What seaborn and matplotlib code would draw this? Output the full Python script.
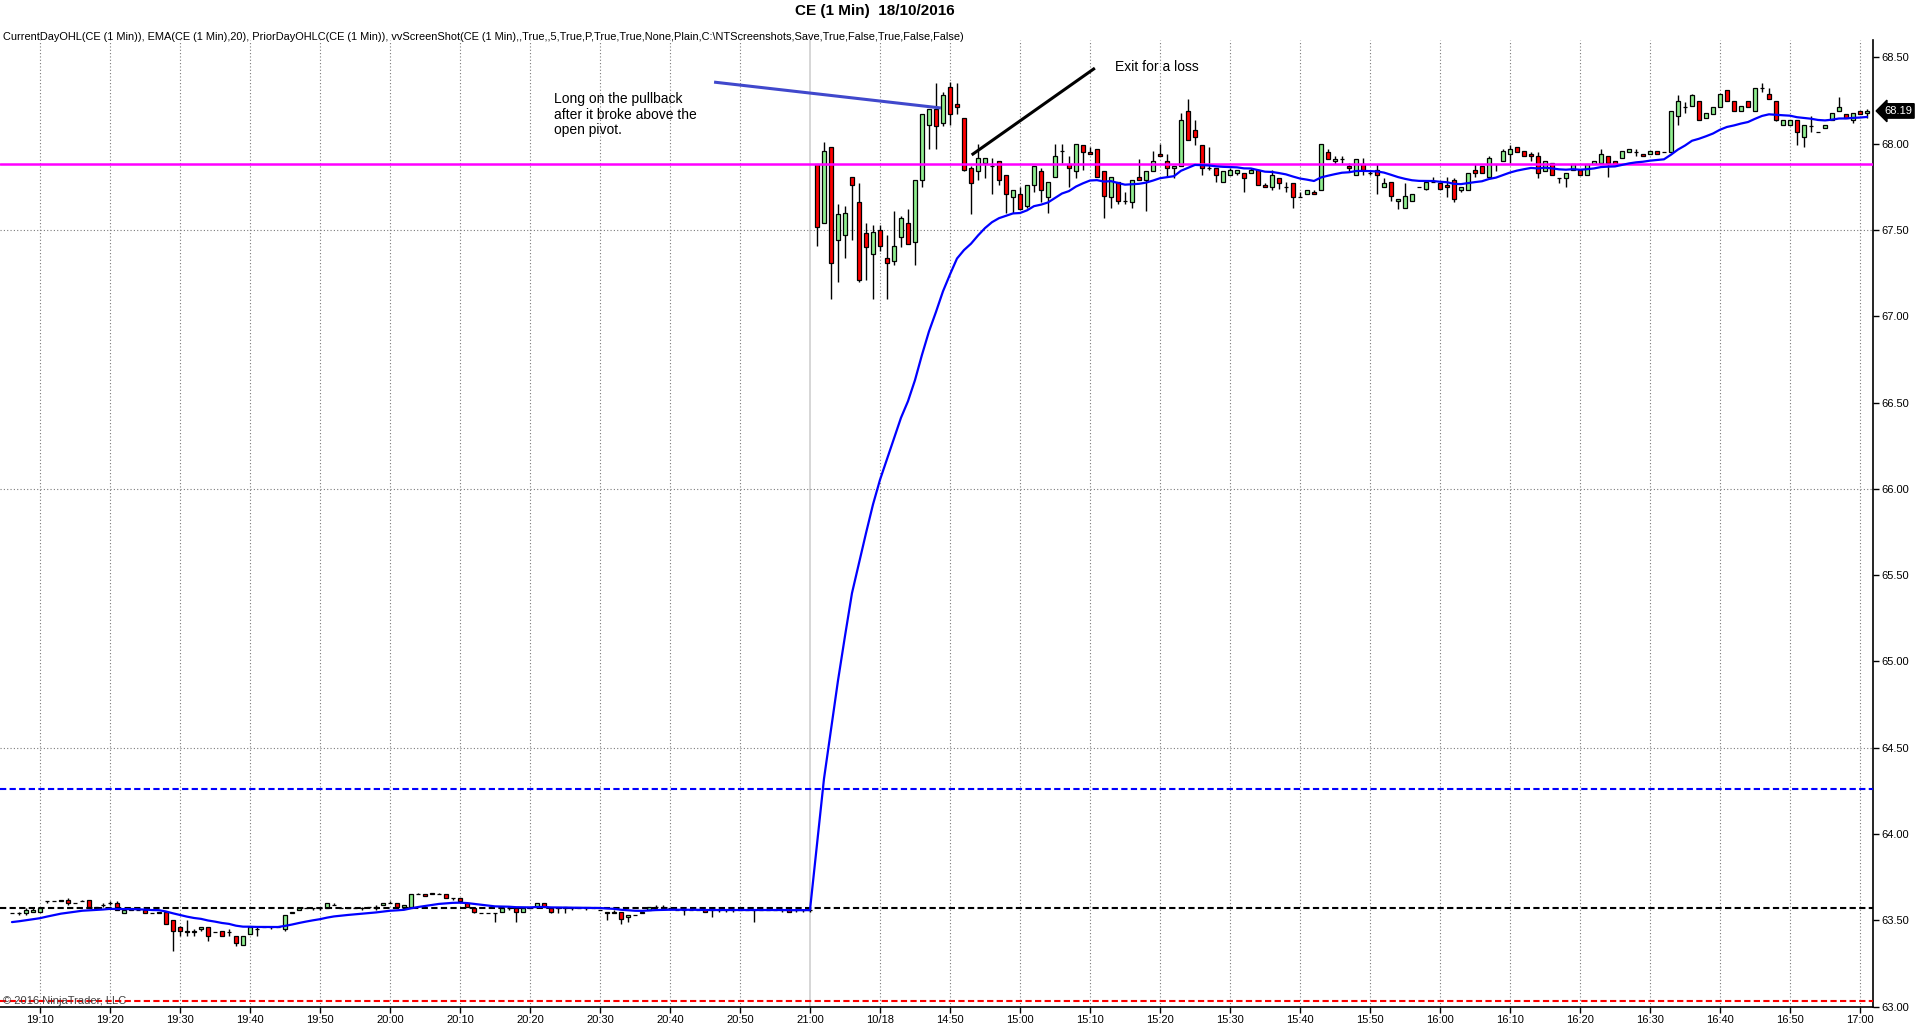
import numpy as np
import pandas as pd
import matplotlib
matplotlib.use("Agg")
import matplotlib.pyplot as plt
import matplotlib.transforms as mtransforms
import seaborn as sns

# ---------------- data ----------------
tick_labels = ["19:10", "19:20", "19:30", "19:40", "19:50", "20:00", "20:10", "20:20",
               "20:30", "20:40", "20:50", "21:00", "10/18", "14:50", "15:00", "15:10",
               "15:20", "15:30", "15:40", "15:50", "16:00", "16:10", "16:20", "16:30",
               "16:40", "16:50", "17:00"]
first_bar = -4          # first candle sits 4 bars before the 19:10 bar
session_break = 110     # bar index of the 21:00 session break

opens = [
    # previous session (19:06 .. 21:00)
    63.54, 63.54, 63.54, 63.55, 63.55, 63.61, 63.61, 63.61, 63.62, 63.60,
    63.61, 63.62, 63.57, 63.59, 63.60, 63.60, 63.54, 63.57, 63.56, 63.56,
    63.54, 63.54, 63.55, 63.50, 63.46, 63.44, 63.43, 63.45, 63.46, 63.43,
    63.44, 63.43, 63.41, 63.36, 63.42, 63.45, 63.46, 63.46, 63.46, 63.45,
    63.54, 63.56, 63.57, 63.57, 63.57, 63.57, 63.59, 63.57, 63.57, 63.57,
    63.57, 63.58, 63.57, 63.59, 63.60, 63.60, 63.58, 63.58, 63.65, 63.65,
    63.66, 63.65, 63.65, 63.63, 63.63, 63.60, 63.57, 63.54, 63.54, 63.54,
    63.55, 63.57, 63.57, 63.55, 63.57, 63.58, 63.60, 63.57, 63.57, 63.58,
    63.57, 63.57, 63.57, 63.57, 63.56, 63.55, 63.54, 63.55, 63.52, 63.53,
    63.54, 63.56, 63.58, 63.58, 63.57, 63.56, 63.56, 63.56, 63.56, 63.56,
    63.56, 63.56, 63.56, 63.56, 63.56, 63.56, 63.56, 63.56, 63.56, 63.56,
    63.56, 63.56, 63.56, 63.56, 63.56,
    # 10/18 session (14:31 .. 17:01)
    67.88, 67.54, 67.98, 67.44, 67.47, 67.81, 67.66, 67.48, 67.36, 67.50,
    67.34, 67.32, 67.46, 67.54, 67.43, 67.79, 68.11, 68.20, 68.12, 68.33,
    68.23, 68.15, 67.86, 67.84, 67.89, 67.87, 67.90, 67.82, 67.69, 67.71,
    67.64, 67.76, 67.84, 67.69, 67.81, 67.96, 67.88, 67.84, 67.99, 67.95,
    67.97, 67.84, 67.69, 67.78, 67.67, 67.66, 67.81, 67.79, 67.84, 67.94,
    67.90, 67.86, 67.87, 68.19, 68.08, 67.99, 67.86, 67.86, 67.78, 67.82,
    67.83, 67.83, 67.83, 67.85, 67.76, 67.75, 67.80, 67.75, 67.77, 67.69,
    67.71, 67.72, 67.73, 67.95, 67.90, 67.91, 67.87, 67.82, 67.88, 67.83,
    67.85, 67.75, 67.78, 67.67, 67.63, 67.67, 67.75, 67.74, 67.78, 67.77,
    67.76, 67.79, 67.73, 67.73, 67.85, 67.87, 67.81, 67.88, 67.90, 67.94,
    67.98, 67.96, 67.94, 67.93, 67.84, 67.89, 67.80, 67.80, 67.85, 67.85,
    67.82, 67.88, 67.89, 67.93, 67.90, 67.92, 67.95, 67.95, 67.94, 67.94,
    67.96, 67.95, 67.95, 68.16, 68.21, 68.22, 68.25, 68.15, 68.17, 68.21,
    68.31, 68.25, 68.19, 68.25, 68.19, 68.32, 68.29, 68.25, 68.11, 68.11,
    68.14, 68.04, 68.10, 68.07, 68.09, 68.14, 68.19, 68.17, 68.14, 68.19, 68.18,
]

highs = [
    63.54, 63.55, 63.57, 63.57, 63.58, 63.61, 63.61, 63.62, 63.63, 63.60,
    63.62, 63.62, 63.58, 63.60, 63.61, 63.61, 63.56, 63.57, 63.56, 63.56,
    63.54, 63.55, 63.55, 63.50, 63.47, 63.50, 63.45, 63.46, 63.46, 63.43,
    63.44, 63.45, 63.41, 63.41, 63.46, 63.46, 63.46, 63.46, 63.46, 63.53,
    63.55, 63.57, 63.57, 63.57, 63.58, 63.60, 63.60, 63.57, 63.57, 63.57,
    63.58, 63.58, 63.59, 63.60, 63.61, 63.60, 63.59, 63.65, 63.66, 63.65,
    63.66, 63.66, 63.65, 63.63, 63.63, 63.60, 63.57, 63.54, 63.54, 63.54,
    63.57, 63.58, 63.57, 63.57, 63.57, 63.60, 63.60, 63.57, 63.57, 63.58,
    63.57, 63.57, 63.57, 63.57, 63.56, 63.55, 63.56, 63.55, 63.53, 63.53,
    63.55, 63.58, 63.59, 63.59, 63.57, 63.56, 63.56, 63.56, 63.56, 63.56,
    63.56, 63.56, 63.56, 63.56, 63.56, 63.56, 63.56, 63.56, 63.56, 63.56,
    63.56, 63.57, 63.56, 63.56, 63.57,
    67.88, 68.01, 67.98, 67.65, 67.64, 67.81, 67.77, 67.54, 67.53, 67.53,
    67.47, 67.61, 67.58, 67.62, 67.79, 68.17, 68.20, 68.35, 68.30, 68.36,
    68.35, 68.15, 67.87, 68.00, 67.92, 67.92, 67.90, 67.82, 67.73, 67.75,
    67.76, 67.87, 67.86, 67.78, 68.00, 68.00, 67.93, 68.00, 67.99, 67.98,
    67.97, 67.84, 67.81, 67.78, 67.72, 67.79, 67.91, 67.84, 67.96, 68.00,
    67.94, 67.87, 68.18, 68.26, 68.14, 67.99, 67.98, 67.86, 67.84, 67.86,
    67.85, 67.83, 67.86, 67.85, 67.77, 67.85, 67.80, 67.78, 67.77, 67.72,
    67.73, 67.73, 68.00, 67.97, 67.93, 67.93, 67.89, 67.91, 67.92, 67.85,
    67.88, 67.80, 67.78, 67.68, 67.77, 67.71, 67.75, 67.78, 67.81, 67.77,
    67.81, 67.80, 67.75, 67.83, 67.88, 67.87, 67.93, 67.88, 67.97, 67.99,
    67.98, 67.96, 67.95, 67.95, 67.90, 67.89, 67.80, 67.83, 67.88, 67.85,
    67.88, 67.90, 67.97, 67.93, 67.90, 67.96, 67.97, 67.97, 67.94, 67.96,
    67.96, 67.95, 68.19, 68.28, 68.24, 68.29, 68.25, 68.18, 68.21, 68.29,
    68.31, 68.25, 68.22, 68.25, 68.32, 68.35, 68.32, 68.25, 68.14, 68.14,
    68.14, 68.11, 68.16, 68.07, 68.11, 68.18, 68.27, 68.17, 68.18, 68.19, 68.20,
]

lows = [
    63.54, 63.53, 63.53, 63.55, 63.55, 63.60, 63.61, 63.61, 63.59, 63.60,
    63.61, 63.58, 63.57, 63.58, 63.59, 63.56, 63.54, 63.56, 63.56, 63.54,
    63.54, 63.54, 63.48, 63.32, 63.41, 63.41, 63.41, 63.44, 63.38, 63.43,
    63.41, 63.41, 63.35, 63.36, 63.42, 63.41, 63.46, 63.45, 63.46, 63.44,
    63.54, 63.56, 63.57, 63.56, 63.56, 63.57, 63.59, 63.57, 63.57, 63.57,
    63.56, 63.58, 63.56, 63.59, 63.60, 63.58, 63.58, 63.58, 63.65, 63.64,
    63.65, 63.65, 63.63, 63.62, 63.61, 63.58, 63.54, 63.54, 63.54, 63.49,
    63.55, 63.56, 63.49, 63.55, 63.57, 63.58, 63.58, 63.54, 63.54, 63.54,
    63.56, 63.57, 63.56, 63.57, 63.56, 63.50, 63.54, 63.48, 63.49, 63.53,
    63.54, 63.56, 63.57, 63.57, 63.56, 63.56, 63.53, 63.56, 63.56, 63.55,
    63.52, 63.55, 63.55, 63.55, 63.56, 63.56, 63.49, 63.56, 63.56, 63.56,
    63.55, 63.55, 63.55, 63.55, 63.55,
    67.41, 67.54, 67.10, 67.20, 67.34, 67.44, 67.20, 67.21, 67.10, 67.38,
    67.10, 67.30, 67.40, 67.42, 67.30, 67.75, 67.97, 67.97, 68.10, 68.11,
    68.17, 67.84, 67.59, 67.79, 67.80, 67.71, 67.76, 67.60, 67.60, 67.62,
    67.63, 67.72, 67.66, 67.60, 67.81, 67.89, 67.75, 67.80, 67.85, 67.94,
    67.81, 67.57, 67.63, 67.65, 67.65, 67.63, 67.79, 67.61, 67.84, 67.93,
    67.81, 67.80, 67.87, 68.02, 67.99, 67.82, 67.85, 67.78, 67.78, 67.82,
    67.82, 67.72, 67.83, 67.76, 67.75, 67.73, 67.74, 67.72, 67.63, 67.69,
    67.71, 67.71, 67.73, 67.91, 67.88, 67.89, 67.84, 67.82, 67.82, 67.82,
    67.71, 67.75, 67.67, 67.62, 67.63, 67.67, 67.75, 67.73, 67.78, 67.74,
    67.69, 67.66, 67.72, 67.73, 67.81, 67.83, 67.81, 67.84, 67.90, 67.89,
    67.95, 67.93, 67.90, 67.80, 67.84, 67.82, 67.77, 67.75, 67.85, 67.82,
    67.82, 67.88, 67.89, 67.81, 67.88, 67.92, 67.95, 67.93, 67.93, 67.94,
    67.94, 67.95, 67.95, 68.11, 68.18, 68.22, 68.14, 68.15, 68.17, 68.21,
    68.25, 68.19, 68.19, 68.21, 68.19, 68.30, 68.26, 68.13, 68.11, 68.11,
    67.99, 67.98, 68.07, 68.07, 68.09, 68.14, 68.19, 68.15, 68.12, 68.17, 68.15,
]

closes = [
    63.54, 63.54, 63.56, 63.56, 63.57, 63.61, 63.61, 63.62, 63.60, 63.60,
    63.61, 63.58, 63.58, 63.59, 63.60, 63.56, 63.56, 63.56, 63.56, 63.54,
    63.54, 63.55, 63.48, 63.44, 63.44, 63.43, 63.44, 63.46, 63.41, 63.43,
    63.41, 63.43, 63.37, 63.41, 63.46, 63.45, 63.46, 63.46, 63.46, 63.53,
    63.55, 63.57, 63.57, 63.57, 63.57, 63.60, 63.59, 63.57, 63.57, 63.57,
    63.57, 63.58, 63.58, 63.60, 63.60, 63.58, 63.59, 63.65, 63.65, 63.64,
    63.65, 63.65, 63.63, 63.63, 63.61, 63.58, 63.55, 63.54, 63.54, 63.54,
    63.57, 63.57, 63.55, 63.57, 63.57, 63.60, 63.58, 63.55, 63.57, 63.57,
    63.57, 63.57, 63.57, 63.57, 63.56, 63.54, 63.55, 63.51, 63.53, 63.53,
    63.55, 63.58, 63.58, 63.57, 63.57, 63.56, 63.56, 63.56, 63.56, 63.55,
    63.56, 63.56, 63.56, 63.56, 63.56, 63.56, 63.56, 63.56, 63.56, 63.56,
    63.56, 63.55, 63.56, 63.56, 63.56,
    67.52, 67.96, 67.31, 67.59, 67.60, 67.76, 67.21, 67.40, 67.49, 67.41,
    67.31, 67.41, 67.57, 67.42, 67.79, 68.17, 68.20, 68.10, 68.28, 68.17,
    68.21, 67.85, 67.77, 67.92, 67.92, 67.87, 67.79, 67.71, 67.73, 67.62,
    67.76, 67.87, 67.73, 67.78, 67.93, 67.96, 67.86, 68.00, 67.95, 67.94,
    67.81, 67.70, 67.81, 67.67, 67.67, 67.79, 67.79, 67.84, 67.90, 67.93,
    67.86, 67.87, 68.14, 68.02, 68.04, 67.86, 67.86, 67.82, 67.84, 67.85,
    67.85, 67.80, 67.85, 67.76, 67.75, 67.82, 67.77, 67.75, 67.69, 67.69,
    67.73, 67.71, 68.00, 67.91, 67.91, 67.91, 67.86, 67.91, 67.85, 67.83,
    67.82, 67.77, 67.70, 67.68, 67.70, 67.71, 67.75, 67.78, 67.78, 67.74,
    67.75, 67.68, 67.75, 67.83, 67.83, 67.83, 67.92, 67.88, 67.96, 67.97,
    67.95, 67.93, 67.93, 67.83, 67.90, 67.82, 67.80, 67.83, 67.88, 67.82,
    67.88, 67.90, 67.94, 67.89, 67.88, 67.96, 67.97, 67.95, 67.93, 67.96,
    67.94, 67.95, 68.19, 68.25, 68.21, 68.28, 68.14, 68.18, 68.21, 68.29,
    68.25, 68.19, 68.22, 68.21, 68.32, 68.32, 68.26, 68.14, 68.14, 68.14,
    68.07, 68.11, 68.10, 68.07, 68.11, 68.18, 68.21, 68.15, 68.18, 68.17, 68.19,
]

ema_period = 20
ema_seed = 63.49        # EMA value shown at the first visible bar
prior_high = 64.26      # blue dashed
prior_close = 63.57     # black dashed
prior_low = 63.03       # red dashed
open_pivot = 67.88      # magenta (current day open)
last_price = 68.19

title_text = "CE (1 Min)  18/10/2016"
indicator_text = ("CurrentDayOHL(CE (1 Min)), EMA(CE (1 Min),20), PriorDayOHLC(CE (1 Min)), "
                  "vvScreenShot(CE (1 Min),,True,,5,True,P,True,True,None,Plain,C:\\NTScreenshots,"
                  "Save,True,False,True,False,False)")
note_long = "Long on the pullback\nafter it broke above the\nopen pivot."
note_exit = "Exit for a loss"
copyright_text = "\u00a9 2016 NinjaTrader, LLC"

# annotation anchors in (bar, price)
long_line = ([96.3, 128.7], [68.357, 68.207])
exit_line = ([133.1, 150.7], [67.935, 68.438])
long_text_pos = (73.4, 68.30)
exit_text_pos = (153.6, 68.446)

# ---------------- build frame ----------------
sns.set_theme(style="white")
plt.rcParams["font.family"] = ["Liberation Sans", "DejaVu Sans"]

df = pd.DataFrame({"open": opens, "high": highs, "low": lows, "close": closes})
df["bar"] = np.arange(len(df)) + first_bar
k = 2.0 / (ema_period + 1)
ema_vals = [ema_seed]
for c in df["close"].iloc[1:]:
    ema_vals.append(ema_vals[-1] + k * (c - ema_vals[-1]))
df["ema"] = ema_vals

W, H = 1920, 1034
fig = plt.figure(figsize=(W / 100, H / 100), dpi=100)
fig.patch.set_facecolor("white")
ax = fig.add_axes([0.0, (H - 1007) / H, 1873 / W, (1007 - 40) / H])
ax.set_facecolor("white")

ax.set_xlim(-5.71, 261.86)
ax.set_ylim(62.998, 68.601)

# grid
tick_pos = np.arange(0, 10 * len(tick_labels), 10)
for p in tick_pos:
    if p == session_break:
        ax.axvline(p, color="#CCCCCC", lw=1.1, zorder=1)
    else:
        ax.axvline(p, color="#7a7a7a", lw=0.8, ls=(0, (1, 2)), zorder=1)
for gy in [64.5, 66.0, 67.5]:
    ax.axhline(gy, color="#7a7a7a", lw=0.8, ls=(0, (1, 2)), zorder=1)

# candles
body_colors = np.where(df["close"] > df["open"], "#90EE90", "#FF0000")
ax.vlines(df["bar"], df["low"], df["high"], color="black", lw=1.0, zorder=3)
ax.bar(df["bar"], df["close"] - df["open"], bottom=df["open"], width=0.62,
       color=body_colors, edgecolor="black", linewidth=0.9, zorder=4)

# level lines
ax.axhline(open_pivot, color="#FF00FF", lw=1.8, zorder=5)
ax.axhline(prior_high, color="#0000FF", lw=1.5, ls=(0, (3, 1.6)), zorder=5)
ax.axhline(prior_close, color="black", lw=1.5, ls=(0, (3, 1.6)), zorder=5)
ax.axhline(prior_low, color="#FF0000", lw=1.5, ls=(0, (3, 1.6)), zorder=5)

# EMA
sns.lineplot(data=df, x="bar", y="ema", color="#0000FF", lw=1.6, ax=ax, zorder=6)

# annotations
ax.plot(*long_line, color="#4048CC", lw=2.2, zorder=7, solid_capstyle="butt")
ax.plot(*exit_line, color="black", lw=2.2, zorder=7, solid_capstyle="butt")
ax.text(*long_text_pos, note_long, fontsize=10, va="top", ha="left",
        linespacing=1.15, color="black", zorder=8)
ax.text(*exit_text_pos, note_exit, fontsize=10, va="center", ha="left",
        color="black", zorder=8)

# axes styling
ax.set_xticks(tick_pos)
ax.set_xticklabels(tick_labels)
yt = np.arange(63.0, 68.51, 0.5)
ax.set_yticks(yt)
ax.set_yticklabels([f"{v:.2f}" for v in yt])
ax.yaxis.tick_right()
ax.tick_params(axis="both", direction="out", length=4, width=1, colors="black",
               labelsize=8, pad=2, bottom=True, right=True, left=False, top=False)
ax.set_xlabel("")
ax.set_ylabel("")
for s in ["left", "top"]:
    ax.spines[s].set_visible(False)
for s in ["right", "bottom"]:
    ax.spines[s].set_visible(True)
    ax.spines[s].set_color("black")
    ax.spines[s].set_linewidth(1.2)

# last price tag
trans = mtransforms.blended_transform_factory(fig.transFigure, ax.transData)
ax.text(1884 / W, last_price, f"{last_price:.2f}", transform=trans, fontsize=8,
        color="white", ha="left", va="center", clip_on=False, zorder=10,
        bbox=dict(boxstyle="larrow,pad=0.2", fc="black", ec="black"))

# texts
fig.text(875 / W, 1 - 11 / H, title_text, ha="center", va="center",
         fontsize=11, fontweight="bold", color="black")
fig.text(3 / W, 1 - 37 / H, indicator_text, ha="left", va="center",
         fontsize=7.9, color="black")
fig.text(3 / W, 1 - 1001 / H, copyright_text, ha="left", va="center",
         fontsize=8, color="#404040")

fig.savefig("out.png", dpi=100, facecolor="white")
